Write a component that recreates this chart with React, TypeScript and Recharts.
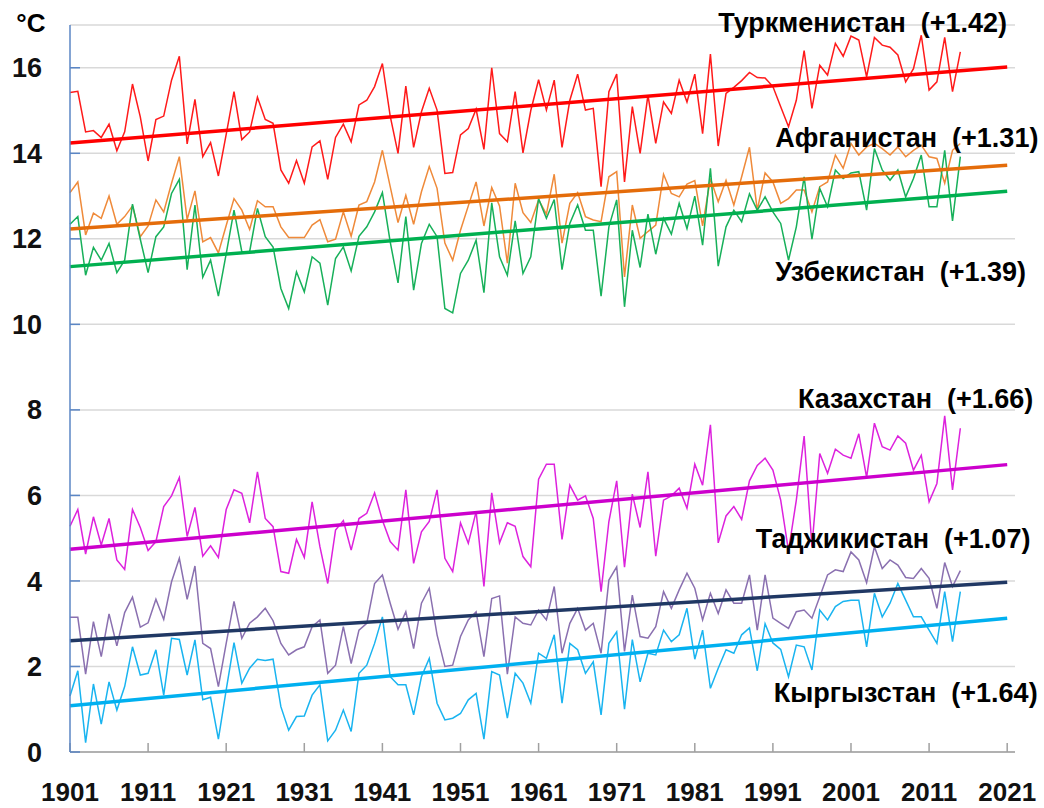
import { LineChart, Line, XAxis, YAxis, CartesianGrid, ReferenceDot } from "recharts";

// годы 1901–2015
const years = [
  1901, 1902, 1903, 1904, 1905, 1906, 1907, 1908, 1909, 1910,
  1911, 1912, 1913, 1914, 1915, 1916, 1917, 1918, 1919, 1920,
  1921, 1922, 1923, 1924, 1925, 1926, 1927, 1928, 1929, 1930,
  1931, 1932, 1933, 1934, 1935, 1936, 1937, 1938, 1939, 1940,
  1941, 1942, 1943, 1944, 1945, 1946, 1947, 1948, 1949, 1950,
  1951, 1952, 1953, 1954, 1955, 1956, 1957, 1958, 1959, 1960,
  1961, 1962, 1963, 1964, 1965, 1966, 1967, 1968, 1969, 1970,
  1971, 1972, 1973, 1974, 1975, 1976, 1977, 1978, 1979, 1980,
  1981, 1982, 1983, 1984, 1985, 1986, 1987, 1988, 1989, 1990,
  1991, 1992, 1993, 1994, 1995, 1996, 1997, 1998, 1999, 2000,
  2001, 2002, 2003, 2004, 2005, 2006, 2007, 2008, 2009, 2010,
  2011, 2012, 2013, 2014, 2015,
];

const turkmenistan = [
  15.42, 15.45, 14.5, 14.53, 14.37, 14.68, 14.06, 14.5, 15.62, 14.85,
  13.82, 14.79, 14.87, 15.71, 16.27, 14.22, 15.26, 13.92, 14.25, 13.47,
  14.44, 15.44, 14.32, 14.5, 15.31, 14.79, 14.7, 13.61, 13.3, 13.83,
  13.3, 14.15, 14.29, 13.39, 14.37, 14.68, 14.27, 15.13, 15.24, 15.56,
  16.1, 14.87, 14.0, 15.57, 14.14, 14.97, 15.52, 15.01, 13.53, 13.55,
  14.43, 14.58, 15.03, 14.09, 16.0, 14.46, 14.27, 15.44, 14.01, 15.0,
  15.72, 15.01, 15.71, 14.14, 15.24, 15.85, 15.01, 15.05, 13.22, 15.44,
  15.85, 13.33, 15.09, 14.0, 15.36, 14.23, 15.2, 14.93, 15.71, 15.2,
  15.85, 14.46, 16.32, 14.17, 15.4, 15.54, 15.7, 15.89, 15.77, 15.76,
  15.56, 15.09, 14.62, 15.24, 16.4, 15.05, 16.06, 15.83, 16.57, 16.27,
  16.74, 16.65, 15.79, 16.71, 16.53, 16.48, 16.3, 15.67, 15.98, 16.76,
  15.48, 15.67, 16.71, 15.44, 16.37,
];

const afghanistan = [
  13.08, 13.33, 12.09, 12.6, 12.48, 13.0, 12.34, 12.52, 12.77, 12.05,
  12.3, 12.91, 12.63, 13.3, 13.92, 12.45, 13.12, 11.93, 12.03, 11.67,
  12.31, 12.94, 12.67, 12.22, 12.89, 12.75, 12.75, 12.28, 12.03, 12.03,
  12.03, 12.32, 12.45, 11.93, 11.99, 12.63, 12.06, 12.79, 12.87, 13.33,
  14.07, 13.22, 12.38, 13.02, 12.34, 13.1, 13.69, 13.18, 11.9, 11.5,
  12.2, 12.77, 13.33, 12.3, 13.2, 12.77, 11.43, 13.3, 12.61, 12.38,
  12.91, 12.58, 13.51, 11.9, 12.83, 13.08, 12.52, 12.44, 12.4, 13.45,
  13.57, 11.11, 12.79, 12.01, 12.17, 12.32, 13.51, 13.06, 12.98, 13.28,
  13.36, 12.3, 13.41, 12.87, 13.37, 12.79, 13.45, 14.14, 12.67, 13.54,
  13.33, 12.83, 12.94, 13.14, 13.14, 12.63, 13.22, 13.33, 13.96, 13.65,
  14.23, 13.96, 14.15, 14.23, 14.11, 13.96, 14.15, 13.92, 14.07, 14.19,
  13.92, 13.88, 13.3, 14.07, 14.23,
];

const uzbekistan = [
  12.34, 12.52, 11.15, 11.8, 11.5, 11.89, 11.21, 11.5, 12.81, 11.99,
  11.21, 12.05, 12.28, 13.06, 13.39, 11.28, 12.79, 11.1, 11.5, 10.66,
  11.65, 12.67, 11.7, 11.7, 12.71, 12.05, 11.81, 10.84, 10.37, 11.23,
  10.76, 11.58, 11.43, 10.45, 11.54, 11.81, 11.25, 12.06, 12.28, 12.63,
  13.08, 11.93, 10.97, 12.52, 10.8, 11.89, 12.34, 12.05, 10.37, 10.27,
  11.19, 11.5, 11.97, 10.74, 12.84, 11.58, 11.15, 12.42, 11.19, 11.58,
  12.94, 12.48, 12.92, 11.28, 12.36, 12.79, 12.2, 12.2, 10.66, 12.28,
  12.91, 10.41, 12.2, 11.33, 12.58, 11.64, 12.48, 12.11, 12.83, 12.24,
  13.0, 11.85, 13.65, 11.36, 12.28, 12.67, 12.4, 13.05, 12.67, 12.98,
  12.63, 12.36, 11.5, 12.28, 13.45, 11.99, 13.18, 12.75, 13.61, 13.41,
  13.54, 13.57, 12.67, 14.11, 13.61, 13.37, 13.61, 12.98, 13.41, 13.96,
  12.75, 12.75, 14.07, 12.42, 13.92,
];

const kazakhstan = [
  5.28, 5.67, 4.63, 5.5, 4.84, 5.46, 4.49, 4.27, 5.67, 5.25,
  4.71, 4.92, 5.74, 5.99, 6.42, 5.04, 5.72, 4.58, 4.82, 4.55,
  5.67, 6.13, 6.05, 5.36, 6.55, 5.46, 5.27, 4.22, 4.18, 4.97,
  4.55, 5.85, 4.8, 3.94, 5.19, 5.41, 4.72, 5.46, 5.58, 6.06,
  5.42, 4.92, 4.72, 6.13, 4.41, 5.15, 5.39, 6.13, 4.53, 4.22,
  5.36, 4.88, 5.62, 3.87, 6.06, 4.89, 5.36, 5.28, 4.57, 4.33,
  6.38, 6.73, 6.73, 4.97, 6.24, 5.89, 5.99, 5.46, 3.75, 5.39,
  6.34, 4.32, 6.03, 5.25, 6.55, 4.58, 5.89, 5.99, 6.17, 5.7,
  6.73, 6.24, 7.65, 4.89, 5.52, 5.74, 5.44, 6.34, 6.7, 6.87,
  6.59, 5.89, 4.7, 5.89, 7.39, 4.8, 6.98, 6.52, 7.08, 6.94,
  6.87, 7.44, 6.42, 7.69, 7.14, 7.06, 7.39, 7.22, 6.59, 6.94,
  5.85, 6.28, 7.86, 6.13, 7.57,
];

const tajikistan = [
  3.15, 3.15, 1.82, 3.05, 2.23, 3.23, 2.48, 3.26, 3.62, 2.92,
  3.02, 3.57, 3.1, 3.98, 4.53, 3.57, 4.35, 2.54, 2.42, 1.53,
  2.54, 3.52, 2.66, 3.01, 3.16, 3.36, 3.07, 2.54, 2.27, 2.39,
  2.46, 2.93, 3.09, 1.84, 2.03, 2.93, 2.07, 2.85, 3.01, 3.94,
  4.14, 3.48, 2.87, 3.28, 2.42, 3.48, 3.83, 2.74, 2.0, 2.03,
  2.7, 3.09, 3.28, 2.23, 3.59, 3.65, 1.82, 3.16, 3.01, 2.97,
  3.32, 3.09, 3.87, 2.31, 3.01, 3.36, 2.85, 3.01, 2.31, 4.02,
  4.33, 2.35, 3.67, 2.7, 2.66, 2.93, 3.75, 3.36, 3.79, 4.18,
  3.83, 3.09, 3.71, 3.24, 3.79, 3.48, 3.48, 4.14, 2.85, 4.14,
  3.13, 3.01, 2.89, 3.28, 3.32, 3.13, 3.63, 4.14, 4.26, 4.22,
  4.68, 4.49, 3.96, 4.8, 4.29, 4.49, 4.37, 4.08, 4.06, 4.29,
  4.06, 3.36, 4.43, 3.87, 4.24,
];

const kyrgyzstan = [
  1.31, 1.9, 0.22, 1.59, 0.65, 1.64, 0.98, 1.53, 2.46, 1.8,
  1.84, 2.39, 1.33, 2.66, 2.63, 1.8, 2.62, 1.22, 1.28, 0.3,
  1.45, 2.56, 1.61, 1.96, 2.17, 2.14, 2.17, 1.06, 0.51, 0.83,
  0.84, 1.33, 1.57, 0.26, 0.51, 0.98, 0.48, 1.84, 2.03, 2.54,
  3.16, 1.76, 1.57, 1.57, 0.87, 1.76, 2.19, 1.14, 0.75, 0.79,
  0.9, 1.22, 1.37, 0.3, 1.88, 1.8, 0.79, 1.84, 1.61, 1.14,
  2.31, 2.19, 2.74, 1.14, 2.54, 2.39, 1.84, 2.11, 0.87, 2.54,
  2.81, 1.0, 2.63, 1.64, 2.31, 2.27, 2.85, 2.58, 2.74, 3.36,
  2.17, 2.85, 1.49, 1.96, 2.39, 2.31, 2.74, 2.9, 1.9, 3.0,
  2.55, 2.4, 1.76, 2.5, 2.46, 1.92, 3.32, 3.09, 3.4, 3.52,
  3.55, 3.55, 2.46, 3.71, 3.16, 3.48, 3.94, 3.55, 3.16, 3.16,
  2.85, 2.54, 3.75, 2.58, 3.75,
];

// линейные тренды (начало и конец)
const trendYears = [1901, 2021];
const trendTurkmenistan = [14.24, 16.02];
const trendAfghanistan = [12.23, 13.72];
const trendUzbekistan = [11.35, 13.11];
const trendKazakhstan = [4.74, 6.72];
const trendTajikistan = [2.6, 3.97];
const trendKyrgyzstan = [1.08, 3.13];

const xTicks = [1901, 1911, 1921, 1931, 1941, 1951, 1961, 1971, 1981, 1991, 2001, 2011, 2021];
const yTicks = [0, 2, 4, 6, 8, 10, 12, 14, 16];

const series = [
  { key: "tm", values: turkmenistan, trend: trendTurkmenistan, color: "#ff1a1a", trendColor: "#ff0000" },
  { key: "af", values: afghanistan, trend: trendAfghanistan, color: "#ef8a3a", trendColor: "#e46c0a" },
  { key: "uz", values: uzbekistan, trend: trendUzbekistan, color: "#17b05a", trendColor: "#00b050" },
  { key: "kz", values: kazakhstan, trend: trendKazakhstan, color: "#dd22dd", trendColor: "#cc00cc" },
  { key: "tj", values: tajikistan, trend: trendTajikistan, color: "#8a70b0", trendColor: "#203864" },
  { key: "kg", values: kyrgyzstan, trend: trendKyrgyzstan, color: "#19b4f0", trendColor: "#00b0f0" },
];

// подписи стран (позиция в координатах данных)
const labels = [
  { text: "Туркменистан\u00a0 (+1.42)", year: 1984.0, value: 17.07 },
  { text: "Афганистан\u00a0 (+1.31)", year: 1991.3, value: 14.38 },
  { text: "Узбекистан\u00a0 (+1.39)", year: 1991.3, value: 11.25 },
  { text: "Казахстан\u00a0 (+1.66)", year: 1994.2, value: 8.26 },
  { text: "Таджикистан\u00a0 (+1.07)", year: 1988.8, value: 5.0 },
  { text: "Кыргызстан\u00a0 (+1.64)", year: 1991.1, value: 1.4 },
];

const rows = years.map((year, i) => {
  const row: any = { year };
  series.forEach((s) => (row[s.key] = s.values[i]));
  return row;
});

const trendRows = trendYears.map((year, i) => {
  const row: any = { year };
  series.forEach((s) => (row[s.key] = s.trend[i]));
  return row;
});

const FONT = "'Liberation Sans', Arial, sans-serif";

const textLabel = (text: string, anchor: "start" | "middle" = "start", size = 27) => (props: any) => {
  const vb = props.viewBox || {};
  return (
    <text
      x={vb.x + (vb.width || 0) / 2}
      y={vb.y + (vb.height || 0) / 2}
      dy="0.36em"
      textAnchor={anchor}
      fontSize={size}
      fontWeight={700}
      fontFamily={FONT}
      fill="#000"
      style={{ whiteSpace: "pre" }}
    >
      {text}
    </text>
  );
};

export default function App() {
  return (
    <div style={{ position: "absolute", left: 0, top: 0, background: "#fff", fontFamily: FONT }}>
      <LineChart
        width={1044}
        height={808}
        data={rows}
        margin={{ top: 25, right: 29, left: 0, bottom: 0 }}
      >
        <CartesianGrid horizontal vertical={false} stroke="#d9d9d9" strokeWidth={1.5} />
        <XAxis
          dataKey="year"
          type="number"
          domain={[1901, 2022]}
          ticks={xTicks}
          interval={0}
          height={56}
          axisLine={{ stroke: "#a0a0a0", strokeWidth: 1.5 }}
          tickLine={{ stroke: "#a0a0a0", strokeWidth: 1.5 }}
          tickSize={-9}
          tickMargin={40}
          tick={{ fill: "#111", fontSize: 26, fontWeight: 700 }}
        />
        <YAxis
          type="number"
          domain={[0, 17]}
          ticks={yTicks}
          interval={0}
          width={70}
          axisLine={{ stroke: "#5b86c5", strokeWidth: 1.5 }}
          tickLine={{ stroke: "#5b86c5", strokeWidth: 1.5 }}
          tickSize={-10}
          tickMargin={38}
          tick={{ fill: "#111", fontSize: 27, fontWeight: 700 }}
        />

        {series.map((s) => (
          <Line
            key={s.key}
            type="linear"
            dataKey={s.key}
            stroke={s.color}
            strokeWidth={1.5}
            dot={false}
            activeDot={false}
            isAnimationActive={false}
          />
        ))}

        {series.map((s) => (
          <Line
            key={"trend-" + s.key}
            data={trendRows}
            type="linear"
            dataKey={s.key}
            stroke={s.trendColor}
            strokeWidth={3.5}
            dot={false}
            activeDot={false}
            isAnimationActive={false}
          />
        ))}

        {labels.map((l) => (
          <ReferenceDot
            key={l.text}
            x={l.year}
            y={l.value}
            r={1}
            fill="none"
            stroke="none"
            ifOverflow="visible"
            label={textLabel(l.text)}
          />
        ))}

        <ReferenceDot
          x={1896}
          y={17.05}
          r={1}
          fill="none"
          stroke="none"
          ifOverflow="visible"
          label={textLabel("°C", "middle", 26)}
        />
      </LineChart>
    </div>
  );
}
